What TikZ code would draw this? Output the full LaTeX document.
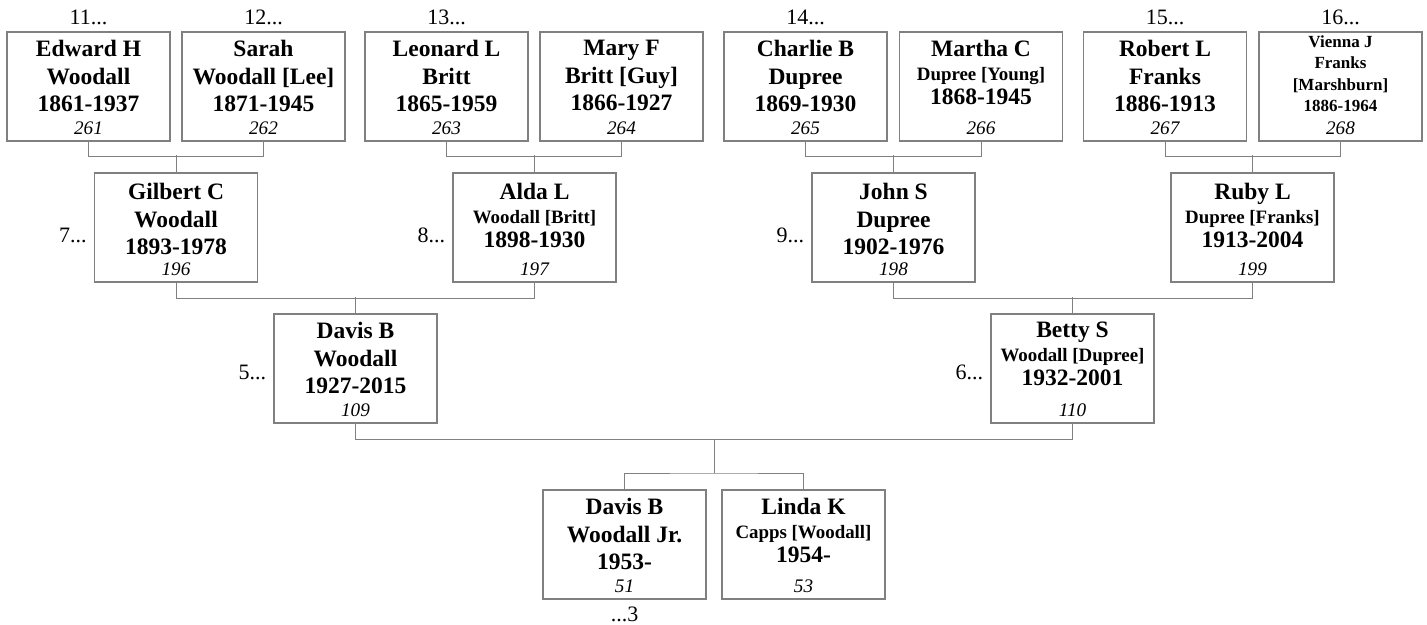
\documentclass[tikz,border=0pt]{standalone}
\usepackage{fontspec}
\setmainfont{Liberation Serif}
\usetikzlibrary{positioning}

\definecolor{lineg}{RGB}{128,128,128}

\newcommand{\namefont}{\fontsize{11.75}{13.75}\selectfont\bfseries}
\newcommand{\surfont}{\fontsize{9.45}{11}\selectfont\bfseries}
\newcommand{\tinyname}{\fontsize{8.5}{10.65}\selectfont\bfseries}

% one person: box, name lines, number
\newcommand{\person}[5][]{%
  \node[pbox] (#2) at (#3) {};
  \node[pname, below=4.3pt of #2.north, #1] (#2-t) {#4};
  \node[pnum, above=3.5pt of #2.south] (#2-no) {#5};
}

\tikzset{
  pbox/.style={draw=lineg, line width=0.6pt, rectangle, inner sep=0pt,
    minimum width=81.5pt, minimum height=54.5pt},
  pname/.style={inner sep=0pt, align=center, font=\namefont},
  pnum/.style={inner sep=0pt, font=\fontsize{9.6}{11}\selectfont\itshape},
  ref/.style={inner sep=0pt, font=\fontsize{11}{13}\selectfont},
  link/.style={draw=lineg, line width=0.5pt}
}

\begin{document}
\begin{tikzpicture}[x=0.5pt, y=-0.5pt]
  \useasboundingbox[fill=white] (0,0) rectangle (1427,625);

  % great-grandparents
  \person{edward}{88.5,86.5}{Edward H\\Woodall\\1861-1937}{261}
  \person{sarah}{263.5,86.5}{Sarah\\Woodall [Lee]\\1871-1945}{262}
  \person{leonard}{446.5,86.5}{Leonard L\\Britt\\1865-1959}{263}
  \person{mary}{621.5,86.5}{Mary F\\Britt [Guy]\\1866-1927}{264}
  \person{charlie}{805.5,86.5}{Charlie B\\Dupree\\1869-1930}{265}
  \person{martha}{981,86.5}{Martha C\\[-1.75pt]{\surfont Dupree [Young]}\\[-1.75pt]1868-1945}{266}
  \person{robert}{1165,86.5}{Robert L\\Franks\\1886-1913}{267}
  \person[font=\tinyname, yshift=2.3pt]{vienna}{1340.5,86.5}{Vienna J\\Franks\\{[Marshburn]}\\1886-1964}{268}

  % grandparents
  \person[yshift=-1pt]{gilbert}{176,227.5}{Gilbert C\\Woodall\\1893-1978}{196}
  \person[yshift=-1pt]{alda}{534.5,227.5}{Alda L\\[-1.75pt]{\surfont Woodall [Britt]}\\[-1.75pt]1898-1930}{197}
  \person[yshift=-1pt]{john}{893.5,227.5}{John S\\Dupree\\1902-1976}{198}
  \person[yshift=-1pt]{ruby}{1252.5,227.5}{Ruby L\\[-1.75pt]{\surfont Dupree [Franks]}\\[-1.75pt]1913-2004}{199}

  % parents
  \person{davis}{355.5,368.5}{Davis B\\Woodall\\1927-2015}{109}
  \person{betty}{1072.5,368.5}{Betty S\\[-1.75pt]{\surfont Woodall [Dupree]}\\[-1.75pt]1932-2001}{110}

  % couple
  \person{davisjr}{624.5,544.5}{Davis B\\Woodall Jr.\\1953-}{51}
  \person{linda}{803.5,544.5}{Linda K\\[-1.75pt]{\surfont Capps [Woodall]}\\[-1.75pt]1954-}{53}

  % reference numbers
  \node[ref, above=3pt of edward.north] (r11) {11...};
  \node[ref, above=3pt of sarah.north] (r12) {12...};
  \node[ref, above=3pt of leonard.north] (r13) {13...};
  \node[ref, above=3pt of charlie.north] (r14) {14...};
  \node[ref, above=3pt of robert.north] (r15) {15...};
  \node[ref, above=3pt of vienna.north] (r16) {16...};
  \node[ref, left=3.5pt of gilbert.west, yshift=-3.75pt] (r7) {7...};
  \node[ref, left=3.5pt of alda.west, yshift=-3.75pt] (r8) {8...};
  \node[ref, left=3.5pt of john.west, yshift=-3.75pt] (r9) {9...};
  \node[ref, left=3.5pt of davis.west, yshift=-1.75pt] (r5) {5...};
  \node[ref, left=3.5pt of betty.west, yshift=-1.75pt] (r6) {6...};
  \node[ref, below=3.5pt of davisjr.south] (r3) {...3};

  % family lines
  \draw[link] (edward.south) -- ++(0,15) -| (sarah.south);
  \draw[link] (gilbert.north) -- ++(0,-17);
  \draw[link] (leonard.south) -- ++(0,15) -| (mary.south);
  \draw[link] (alda.north) -- ++(0,-17);
  \draw[link] (charlie.south) -- ++(0,15) -| (martha.south);
  \draw[link] (john.north) -- ++(0,-17);
  \draw[link] (robert.south) -- ++(0,15) -| (vienna.south);
  \draw[link] (ruby.north) -- ++(0,-17);

  \draw[link] (gilbert.south) -- ++(0,16) -| (alda.south);
  \draw[link] (davis.north) -- ++(0,-16);
  \draw[link] (john.south) -- ++(0,16) -| (ruby.south);
  \draw[link] (betty.north) -- ++(0,-16);

  \coordinate (j2) at (714,439);
  \coordinate (j3) at (714,473);
  \draw[link] (davis.south) -- ++(0,16) -| (betty.south);
  \draw[link] (j2) -- (j3);
  \draw[link] (davisjr.north) |- (j3) -| (linda.north);
\end{tikzpicture}
\end{document}
